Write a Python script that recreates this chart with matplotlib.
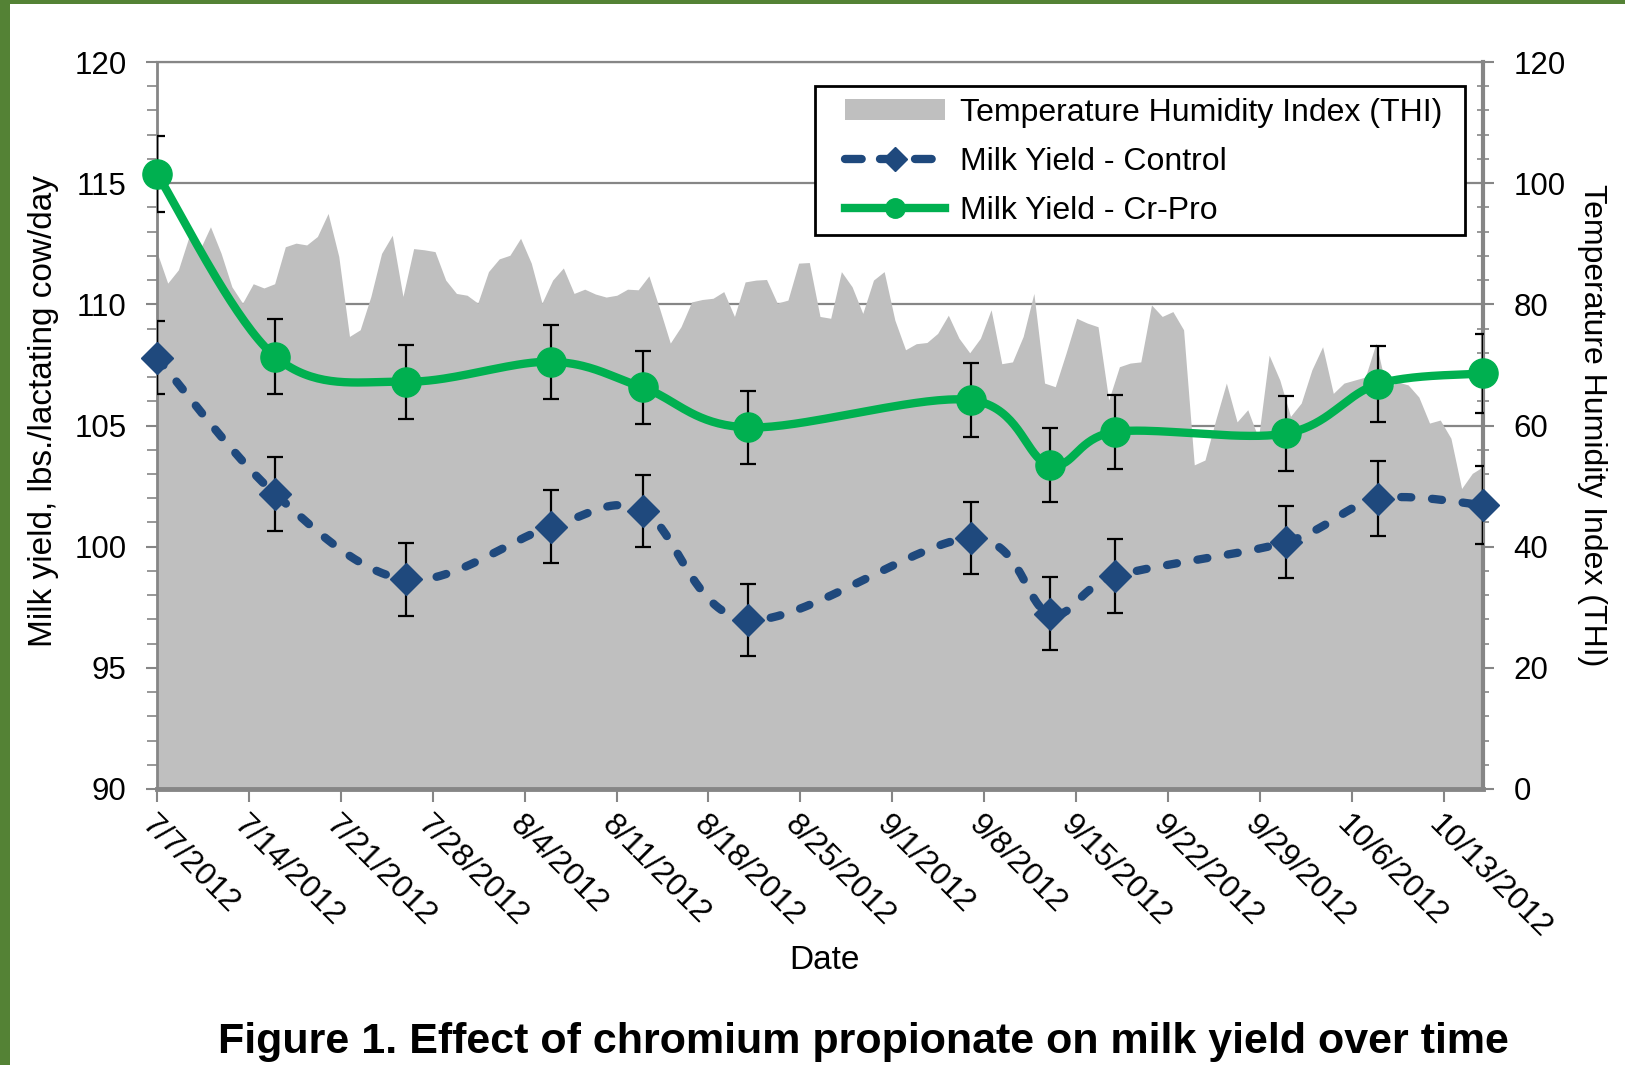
import numpy as np
import pandas as pd
import matplotlib.pyplot as plt
import matplotlib.dates as mdates
from matplotlib.patches import Patch, Rectangle
from matplotlib.lines import Line2D
from matplotlib.ticker import MultipleLocator

plt.rcParams['font.family'] = ['Liberation Sans', 'DejaVu Sans']

# sampling days and herd means (lbs/cow/day) with standard errors
sample_dates = ['2012-07-07', '2012-07-16', '2012-07-26', '2012-08-06', '2012-08-13', '2012-08-21',
                '2012-09-07', '2012-09-13', '2012-09-18', '2012-10-01', '2012-10-08', '2012-10-16']
yield_control = [107.80, 102.17, 98.65, 100.82, 101.48, 96.98, 100.35, 97.24, 98.78, 100.19, 101.97, 101.72]
se_control = [1.50, 1.53, 1.52, 1.50, 1.48, 1.50, 1.48, 1.50, 1.52, 1.50, 1.55, 1.60]
yield_crpro = [115.38, 107.84, 106.81, 107.63, 106.57, 104.92, 106.05, 103.37, 104.74, 104.67, 106.71, 107.15]
se_crpro = [1.58, 1.56, 1.53, 1.53, 1.52, 1.51, 1.51, 1.53, 1.52, 1.55, 1.57, 1.62]

# temperature humidity index readings, 7/7 through 10/16
thi = [88.6, 83.5, 85.7, 91.2, 89.0, 92.8, 88.4, 82.9, 80.2, 83.4, 82.7, 83.4, 89.5, 90.1, 89.8,
       91.2, 95.0, 87.9, 74.7, 75.8, 81.3, 88.4, 91.4, 81.3, 89.2, 89.0, 88.7, 84.0, 81.8, 81.5,
       80.2, 85.4, 87.5, 88.1, 90.9, 86.8, 80.2, 84.0, 86.0, 81.8, 82.5, 81.7, 81.2, 81.5, 82.5,
       82.4, 84.7, 79.3, 73.6, 76.3, 80.4, 80.8, 81.0, 82.1, 78.0, 83.7, 84.0, 84.1, 80.2, 80.7,
       86.8, 86.9, 78.0, 77.7, 85.4, 82.9, 78.5, 84.0, 85.4, 77.4, 72.5, 73.5, 73.7, 75.2, 78.2,
       74.4, 72.0, 74.4, 79.1, 70.2, 70.5, 74.7, 81.8, 67.0, 66.4, 71.9, 77.7, 76.9, 76.3, 64.2,
       69.7, 70.3, 70.5, 79.9, 78.0, 78.8, 75.8, 53.5, 54.3, 60.9, 67.0, 60.6, 62.6, 57.9, 71.6,
       67.5, 61.5, 63.7, 69.2, 73.0, 65.3, 67.0, 67.5, 68.0, 73.6, 65.9, 67.2, 66.7, 64.7, 60.4,
       60.9, 57.9, 49.6, 52.1, 53.2]
thi_start, thi_end = '2012-07-07', '2012-10-16'
tick_dates = pd.date_range('2012-07-07', '2012-10-13', freq='7D')

BLUE = '#1F497D'
GREEN = '#00B050'
GRAY_FILL = '#BFBFBF'
AXIS_GRAY = '#868686'

W, H = 16.25, 10.65
fig = plt.figure(figsize=(W, H), dpi=100)
fig.patch.set_facecolor('white')
# dark green page frame on the left and top
fig.patches.append(Rectangle((0, 0), 10 / 1625, 1, transform=fig.transFigure,
                             facecolor='#548235', edgecolor='none'))
fig.patches.append(Rectangle((0, 1 - 4 / 1065), 1, 4 / 1065, transform=fig.transFigure,
                             facecolor='#548235', edgecolor='none'))

pos = [157 / 1625, 1 - 789 / 1065, (1483 - 157) / 1625, (789 - 62) / 1065]
ax = fig.add_axes(pos)
ax2 = ax.twinx()
ax.set_zorder(ax2.get_zorder() + 1)
ax.patch.set_visible(False)

x0 = mdates.date2num(pd.Timestamp(thi_start))
x1 = mdates.date2num(pd.Timestamp(thi_end))
thi_x = np.linspace(x0, x1, len(thi))

# THI area on the secondary axis, grid behind it
ax2.fill_between(thi_x, thi, 0, color=GRAY_FILL, lw=0, zorder=1)
ax2.set_ylim(0, 120)
ax2.set_yticks(range(0, 121, 20))
ax2.yaxis.set_minor_locator(MultipleLocator(4))
ax2.set_axisbelow(True)
ax2.yaxis.grid(True, color=AXIS_GRAY, lw=1.6)
ax2.tick_params(axis='y', which='major', direction='out', length=8, width=1.5,
                color=AXIS_GRAY, labelsize=22.5, pad=14)
ax2.tick_params(axis='y', which='minor', direction='inout', length=8, width=1.2, color=AXIS_GRAY)
for s in ['left', 'top', 'bottom']:
    ax2.spines[s].set_visible(False)
ax2.spines['right'].set_color(AXIS_GRAY)
ax2.spines['right'].set_linewidth(3)
ax2.set_ylabel('Temperature Humidity Index (THI)', fontsize=23, rotation=-90, va='bottom')
ax2.yaxis.set_label_coords(1.0709, 0.5)


def smooth(x, y, sx, sy, n=40):
    # Catmull-Rom style Bezier through the points, computed in pixel space
    P = np.column_stack([np.asarray(x) * sx, np.asarray(y) * sy])
    Q = np.vstack([P[0], P, P[-1]])
    t = np.linspace(0, 1, n)[:, None]
    parts = []
    for i in range(len(P) - 1):
        p0, p1, p2, p3 = Q[i], Q[i + 1], Q[i + 2], Q[i + 3]
        c1 = p1 + (p2 - p0) / 6
        c2 = p2 - (p3 - p1) / 6
        seg = (1 - t) ** 3 * p1 + 3 * (1 - t) ** 2 * t * c1 + 3 * (1 - t) * t ** 2 * c2 + t ** 3 * p2
        parts.append(seg if i == 0 else seg[1:])
    pts = np.vstack(parts)
    return pts[:, 0] / sx, pts[:, 1] / sy


dx = mdates.date2num(pd.to_datetime(sample_dates))
sx = (1483 - 157) / (x1 - x0)
sy = (789 - 62) / 30.0

ax.errorbar(dx, yield_control, yerr=se_control, fmt='none', ecolor='black',
            elinewidth=1.6, capsize=6, capthick=1.6, zorder=3)
ax.errorbar(dx, yield_crpro, yerr=se_crpro, fmt='none', ecolor='black',
            elinewidth=1.6, capsize=6, capthick=1.6, zorder=3)

cx, cy = smooth(dx, yield_control, sx, sy)
ax.plot(cx, cy, color=BLUE, lw=6, dashes=(1.2, 2.5), dash_capstyle='round', zorder=4)
ax.plot(dx, yield_control, ls='none', marker='D', ms=16, color=BLUE, zorder=5, clip_on=False)

gx, gy = smooth(dx, yield_crpro, sx, sy)
ax.plot(gx, gy, color=GREEN, lw=6, solid_capstyle='round', zorder=4)
ax.plot(dx, yield_crpro, ls='none', marker='o', ms=21, color=GREEN, zorder=5, clip_on=False)

ax.set_xlim(x0, x1)
ax.set_ylim(90, 120)
ax.set_yticks(range(90, 121, 5))
ax.yaxis.set_minor_locator(MultipleLocator(1))
ax.tick_params(axis='y', which='major', direction='out', length=8, width=1.5,
               color=AXIS_GRAY, labelsize=22.5, pad=14)
ax.tick_params(axis='y', which='minor', direction='out', length=7, width=1.2, color=AXIS_GRAY)
ax.set_xticks(mdates.date2num(tick_dates))
ax.set_xticklabels([f'{d.month}/{d.day}/{d.year}' for d in tick_dates])
ax.tick_params(axis='x', direction='out', length=9, width=1.5, color=AXIS_GRAY,
               labelsize=23, pad=6)
plt.setp(ax.get_xticklabels(), rotation=-45, ha='left', va='top', rotation_mode='anchor')
for s in ['left', 'top', 'bottom']:
    ax.spines[s].set_color(AXIS_GRAY)
ax.spines['left'].set_linewidth(2)
ax.spines['top'].set_linewidth(1.6)
ax.spines['bottom'].set_linewidth(3.5)
ax.spines['right'].set_visible(False)

ax.set_ylabel('Milk yield, lbs./lactating cow/day', fontsize=24)
ax.yaxis.set_label_coords(-0.0739, 0.52)
ax.set_xlabel('Date', fontsize=24)
ax.xaxis.set_label_coords(0.503, -0.2146)

# legend contents without frame; the box is drawn separately
handles = [
    Patch(facecolor=GRAY_FILL, edgecolor='none'),
    Line2D([], [], color=BLUE, lw=6, dashes=(2.0, 2.2), dash_capstyle='round', marker='D', ms=12),
    Line2D([], [], color=GREEN, lw=6, marker='o', ms=14),
]
labels = ['Temperature Humidity Index (THI)', 'Milk Yield - Control', 'Milk Yield - Cr-Pro']
leg = ax.legend(handles, labels, loc='center left', bbox_to_anchor=(0.5186, 0.8625),
                borderaxespad=0, borderpad=0, fontsize=23, frameon=False, numpoints=1,
                handlelength=3.13, handleheight=0.6, handletextpad=0.47, labelspacing=0.6)
leg.set_zorder(10)
ax.add_patch(Rectangle(((814.6 - 157) / 1326, 1 - (235 - 62) / 727), (1464.5 - 814.6) / 1326,
                       (235 - 86) / 727, transform=ax.transAxes, facecolor='white',
                       edgecolor='black', lw=2, zorder=9))

fig.text(0.5315, 1 - 1042 / 1065, 'Figure 1. Effect of chromium propionate on milk yield over time',
         ha='center', va='center', fontsize=31, fontweight='bold')

fig.savefig('out.png', dpi=100)
